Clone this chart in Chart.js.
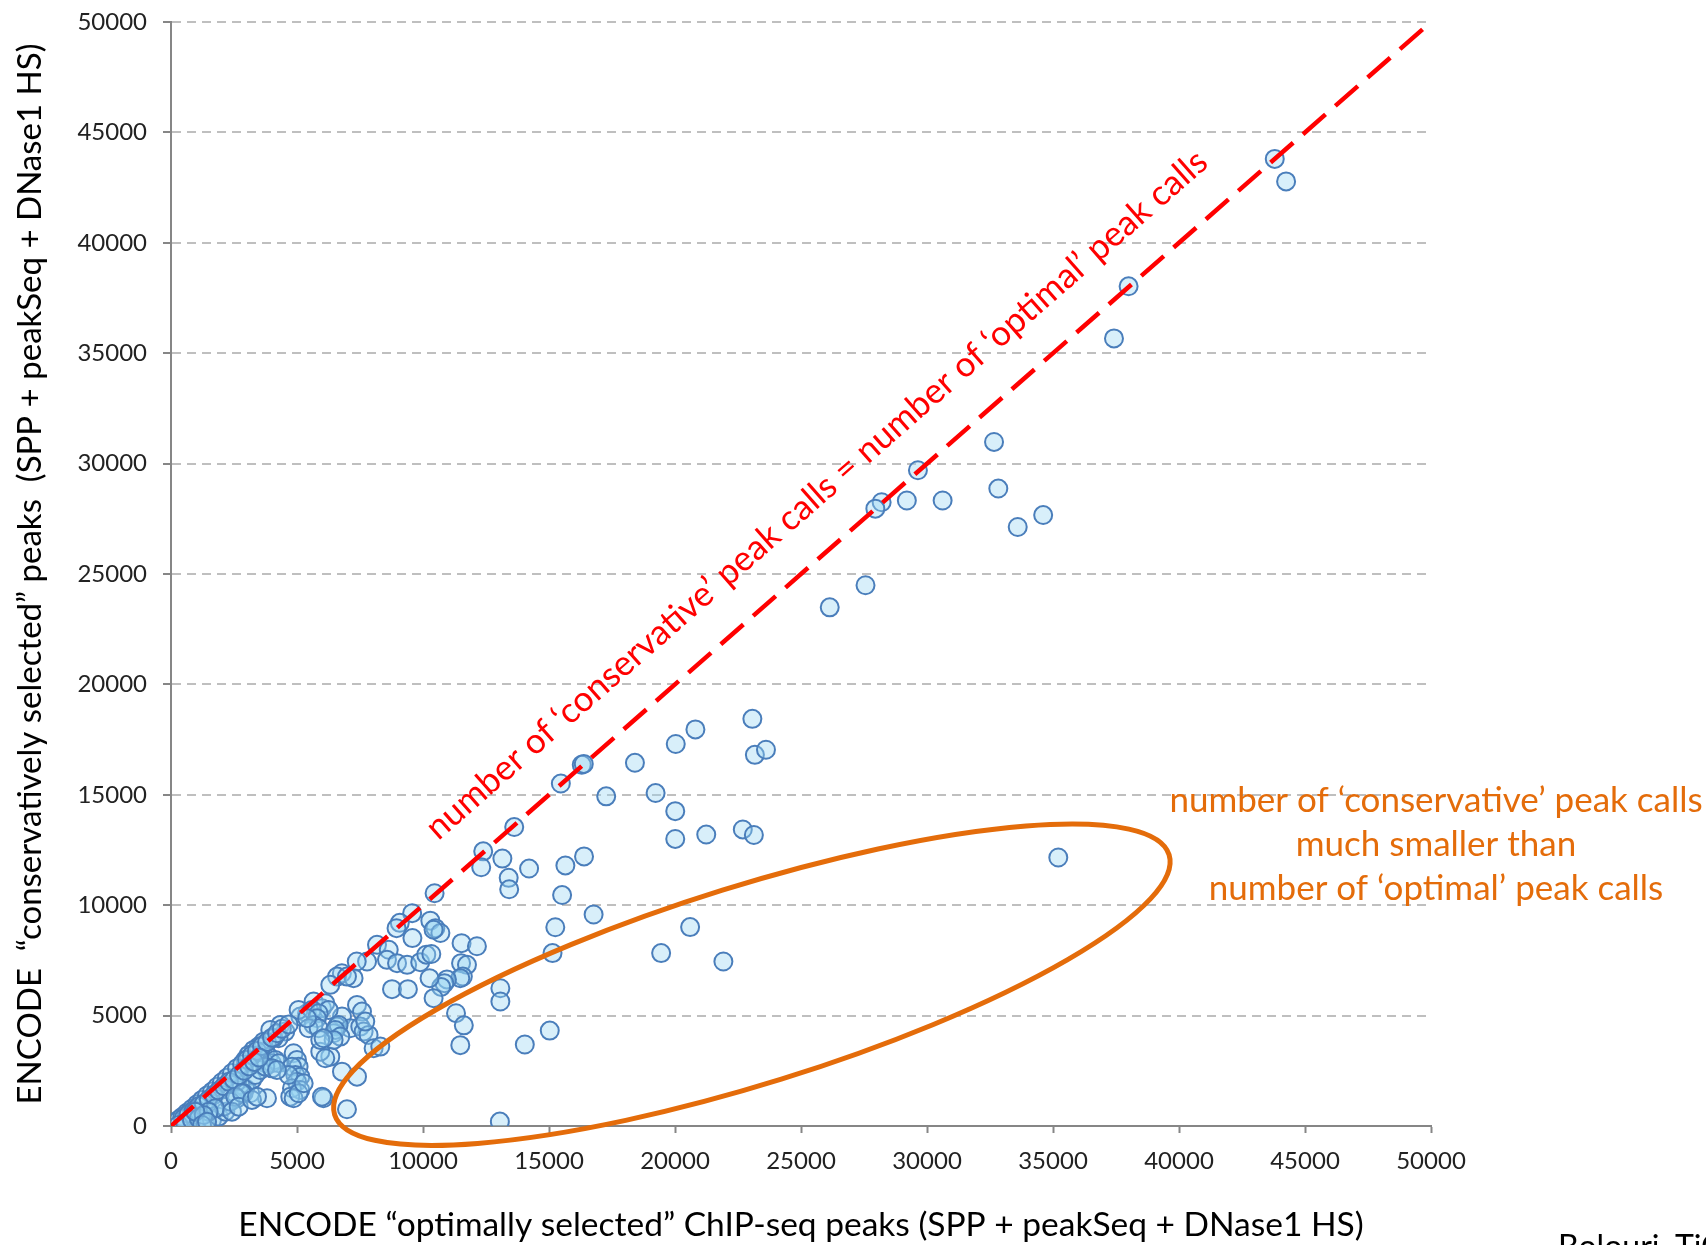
<!DOCTYPE html>
<html>
<head>
<meta charset="utf-8">
<script src="https://cdn.jsdelivr.net/npm/chart.js@4.4.1/dist/chart.umd.min.js"></script>
<style>
  body { margin: 0; background: #fff; }
  canvas { display: block; }
</style>
</head>
<body>
<canvas id="peakChart" width="1706" height="1245"></canvas>
<script>
// optimal (x) vs conservative (y) peak counts
const optimalPeaks = [
  43800, 44250, 38000, 37420, 32660, 32830, 29640, 29200, 30620, 28200, 27950, 33600, 34610,
  27560, 26140, 23070, 23170, 23610, 20810, 20030, 18410, 16300, 16380, 15470, 17270, 19230,
  20010, 20010, 21240, 22690, 23130, 13620, 12390, 12310, 13150, 13400, 13420, 14210, 15650,
  16390, 10460, 15520, 16770, 15250, 15140, 20600, 19450, 21920, 35210, 15030, 14040, 13050,
  13070, 13070,
  9570, 9080, 8950, 10290, 10490, 10690, 10420, 9580, 8175, 8640, 8570, 8970, 9370, 9890,
  10130, 10330, 11530, 12140, 11510, 11745, 11580, 11480, 10950, 10850, 10720, 10260, 10420,
  8770, 9400, 11310, 11620, 11480, 7780, 7370, 6780, 6590, 7245, 6983, 6321, 7381, 7579,
  6785, 6587, 7115, 7511, 7644, 7840, 6452, 8040, 8305, 6321, 6785, 7381, 6983, 6050, 7709,
  5658, 5396, 5991, 5131, 6123, 6254, 5063, 5595, 5858, 5793, 5658, 5460, 5858, 6651, 6519,
  6718, 6452, 5400,
  4337, 4535, 4269, 3940, 4071, 3675, 3476, 3278, 3079, 2948, 3742, 3873, 3742, 4007, 4139,
  4269, 4865, 4998, 5063, 4801, 4932, 5130, 4998, 5130, 4801, 4666, 4734, 4865, 5063, 5924,
  6123, 5924, 6055, 5991, 3809, 3147, 2948, 2750, 2619, 3214, 3345, 3543, 3742, 4007, 4205,
  5265, 2884, 2620,
  150, 300, 450, 630, 830, 1030, 1230, 1430, 1630, 1830, 2020, 2220, 2420, 2620, 2820, 3020,
  3210, 3410, 3610, 3810, 4010, 4210, 4400, 4670,
  500, 700, 900, 1100, 1300, 1500, 1700, 1900, 2100, 2300, 2500, 2700, 2900, 3100, 3300, 3500,
  303, 568, 832, 1097, 1362, 1626, 1891, 2155, 2089, 2354, 2552, 2817, 1759, 1494, 1296, 965,
  2420, 2685, 3214, 3412, 1230, 1429
];
const conservativePeaks = [
  43800, 42780, 38030, 35670, 30980, 28870, 29700, 28330, 28330, 28250, 27960, 27130, 27670,
  24490, 23490, 18440, 16810, 17040, 17960, 17300, 16450, 16360, 16400, 15510, 14930, 15080,
  14260, 13000, 13200, 13430, 13180, 13540, 12440, 11720, 12110, 11240, 10720, 11660, 11800,
  12210, 10540, 10460, 9580, 9000, 7830, 9010, 7830, 7450, 12160, 4320, 3690, 200,
  6240, 5640,
  9640, 9200, 8960, 9300, 8960, 8740, 8890, 8510, 8205, 7980, 7525, 7375, 7300, 7420,
  7760, 7790, 8280, 8140, 7374, 7298, 6768, 6696, 6640, 6469, 6300, 6696, 5789,
  6197, 6197, 5108, 4560, 3660, 7450, 7450, 6920, 6768, 6696, 6768, 6392, 5485, 5183,
  4955, 4502, 4427, 4502, 4275, 4125, 4201, 3522, 3597, 3141, 2461, 2235, 757, 1256, 4728,
  5636, 5108, 5335, 4955, 5562, 5258, 5258, 5258, 5108, 4882, 4578, 4427, 4427, 4578, 4352,
  4049, 3899, 4880,
  4578, 4275, 3975, 4352, 3975, 3821, 3597, 3446, 3220, 2992, 3368, 3141, 2842, 2842, 2992,
  2842, 3295, 2992, 2688, 2688, 2311, 2235, 2008, 1632, 1709, 2311, 1328, 1256, 1482, 3368,
  3069, 3899, 3975, 1328, 1256, 1482, 1709, 1859, 2008, 2085, 2311, 2537, 2688, 2612, 2537,
  1934, 1481, 1254,
  150, 280, 420, 600, 780, 980, 1180, 1380, 1560, 1780, 1980, 2180, 2400, 2620, 2800, 3000,
  3200, 3400, 3620, 3800, 4000, 4200, 4400, 4600,
  350, 550, 700, 900, 1000, 1200, 1400, 1600, 1800, 2000, 2100, 2300, 2500, 2700, 2900, 3100,
  46, 121, 272, 348, 121, 272, 424, 650, 877, 1103, 1330, 1481, 801, 650, 499, 650,
  650, 877, 1179, 1330, 45, 196
];
const axisTicks = [0, 5000, 10000, 15000, 20000, 25000, 30000, 35000, 40000, 45000, 50000];
const identityLine = [0, 50000];

const xTitle = 'ENCODE \u201coptimally selected\u201d ChIP-seq peaks (SPP + peakSeq + DNase1 HS)';
const yTitle = 'ENCODE  \u201cconservatively selected\u201d peaks  (SPP + peakSeq + DNase1 HS)';
const diagLabel = 'number of \u2018conservative\u2019 peak calls = number of \u2018optimal\u2019 peak calls';
const noteLines = ['number of \u2018conservative\u2019 peak calls', 'much smaller than', 'number of \u2018optimal\u2019 peak calls'];
const creditText = 'Bolouri, TiG';

const FONT = 'Lato, "Open Sans", sans-serif';
const ORANGE = '#e46c0a';

const points = optimalPeaks.map((x, i) => ({ x: x, y: conservativePeaks[i] }));

// annotations: label along the diagonal, ellipse, orange note, credit
const annotations = {
    id: 'annotations',
    afterDatasetsDraw(chart) {
        const ctx = chart.ctx;
        const xs = chart.scales.x;
        const ys = chart.scales.y;
        const area = chart.chartArea;

        // red label parallel to the dashed line
        const x0 = xs.getPixelForValue(0), y0 = ys.getPixelForValue(0);
        const x1 = xs.getPixelForValue(50000), y1 = ys.getPixelForValue(50000);
        const ang = Math.atan2(y1 - y0, x1 - x0);
        const sx = xs.getPixelForValue(11600), sy = ys.getPixelForValue(11600);
        ctx.save();
        ctx.translate(sx, sy);
        ctx.rotate(ang);
        ctx.fillStyle = '#ff0000';
        ctx.font = '35px ' + FONT;
        ctx.textAlign = 'left';
        ctx.textBaseline = 'alphabetic';
        ctx.fillText(diagLabel, 0, -38);
        ctx.restore();

        // orange ellipse round the low points
        const cx = xs.getPixelForValue(23050), cy = ys.getPixelForValue(6400);
        ctx.save();
        ctx.strokeStyle = ORANGE;
        ctx.lineWidth = 5;
        ctx.beginPath();
        ctx.ellipse(cx, cy, 437, 99, -17.3 * Math.PI / 180, 0, Math.PI * 2);
        ctx.stroke();
        ctx.restore();

        // orange note
        ctx.save();
        ctx.fillStyle = ORANGE;
        ctx.font = '35px ' + FONT;
        ctx.textAlign = 'center';
        ctx.textBaseline = 'middle';
        const ny = ys.getPixelForValue(14750);
        noteLines.forEach((line, i) => {
            ctx.fillText(line, area.right + 5, ny + i * 44);
        });
        ctx.restore();

        // credit, cut by the bottom edge
        ctx.save();
        ctx.fillStyle = '#000';
        ctx.font = '32px ' + FONT;
        ctx.textAlign = 'left';
        ctx.textBaseline = 'alphabetic';
        ctx.fillText(creditText, 1558, 1258);
        ctx.restore();
    }
};

const ctx = document.getElementById('peakChart').getContext('2d');
new Chart(ctx, {
    type: 'scatter',
    data: {
        datasets: [
            {
                type: 'line',
                label: 'identity',
                data: identityLine.map(v => ({ x: v, y: v })),
                borderColor: '#ff0000',
                borderWidth: 4.5,
                borderDash: [30, 13],
                pointRadius: 0,
                fill: false
            },
            {
                label: 'peaks',
                data: points,
                pointRadius: 9,
                pointHoverRadius: 9,
                borderWidth: 2,
                borderColor: '#4a7ebb',
                backgroundColor: 'rgba(153, 214, 242, 0.38)'
            }
        ]
    },
    options: {
        responsive: false,
        animation: false,
        events: [],
        layout: { padding: { top: 22, right: 275, bottom: 0, left: 0 } },
        plugins: {
            legend: { display: false },
            tooltip: { enabled: false }
        },
        scales: {
            x: {
                type: 'linear',
                min: 0,
                max: 50000,
                afterBuildTicks: s => { s.ticks = axisTicks.map(v => ({ value: v })); },
                afterFit: s => { s.height = 119; },
                ticks: {
                    color: '#222',
                    font: { family: FONT, size: 24 },
                    padding: 14,
                    maxRotation: 0,
                    callback: v => String(v)
                },
                grid: {
                    drawOnChartArea: false,
                    drawTicks: true,
                    tickLength: 7,
                    tickColor: '#868686',
                    tickWidth: 2
                },
                border: { color: '#868686', width: 2 },
                title: {
                    display: true,
                    text: xTitle,
                    color: '#000',
                    font: { family: FONT, size: 33.5 },
                    padding: { top: 0, bottom: 0 }
                }
            },
            y: {
                type: 'linear',
                min: 0,
                max: 50000,
                afterBuildTicks: s => { s.ticks = axisTicks.map(v => ({ value: v })); },
                afterFit: s => {
                    s.width = 171;
                    s.paddingTop = 0;
                    s.paddingBottom = 0;
                },
                ticks: {
                    color: '#222',
                    font: { family: FONT, size: 24 },
                    padding: 16,
                    callback: v => String(v)
                },
                grid: {
                    color: '#bfbfbf',
                    lineWidth: 2,
                    drawTicks: true,
                    tickLength: 8,
                    tickColor: '#868686',
                    tickWidth: 2
                },
                border: { color: '#868686', width: 2, dash: [9, 6] },
                title: {
                    display: true,
                    text: yTitle,
                    color: '#000',
                    font: { family: FONT, size: 33 },
                    padding: { top: 11, bottom: 0 }
                }
            }
        }
    },
    plugins: [annotations]
});
</script>
</body>
</html>
